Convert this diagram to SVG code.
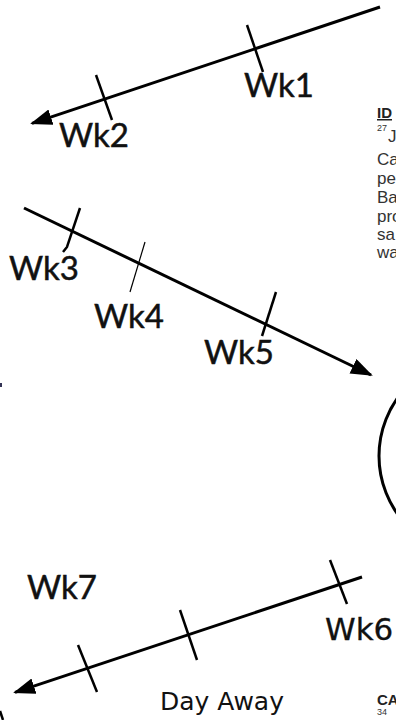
<svg xmlns="http://www.w3.org/2000/svg" width="396" height="720" viewBox="0 0 396 720">
<style>
.axis{fill:none;stroke:#000;stroke-width:3;stroke-linecap:butt}
.tick{fill:none;stroke:#000;stroke-width:2.5;stroke-linecap:butt}
.thin{fill:none;stroke:#000;stroke-width:1.2}
.wk{font-family:Lato,"Liberation Sans",sans-serif;font-size:33px;fill:#111;stroke:#111;stroke-width:0.5}
.wkb{font-family:"DejaVu Sans",sans-serif;font-size:31px;fill:#111;stroke:#111;stroke-width:0.3}
.day{font-family:"DejaVu Sans",sans-serif;font-size:25px;fill:#111}
.body{font-family:"Liberation Sans",Arial,sans-serif;font-size:17px;fill:#333}
.head{font-family:"Liberation Sans",Arial,sans-serif;font-size:15px;font-weight:bold;fill:#222}
.sup{font-family:"Liberation Sans",Arial,sans-serif;font-size:9px;fill:#333}
</style>
<defs>
<marker id="ah" viewBox="0 0 22 16" markerWidth="22" markerHeight="16" markerUnits="userSpaceOnUse" refX="20" refY="8" orient="auto">
<path d="M0,0 L22,8 L0,16 z" fill="#000"/>
</marker>
</defs>
<g id="connectors">
<line class="axis" x1="380" y1="7" x2="32" y2="123.4" marker-end="url(#ah)"/>
<line class="axis" x1="24" y1="208" x2="371" y2="375" marker-end="url(#ah)"/>
<line class="axis" x1="362" y1="577" x2="15" y2="692.4" marker-end="url(#ah)"/>
</g>
<g id="ticks">
<line class="tick" x1="247" y1="25" x2="263" y2="72"/>
<line class="tick" x1="96" y1="75" x2="112" y2="120"/>
<polyline class="tick" points="80,208 67,247 63,252"/>
<line class="thin" x1="145" y1="242" x2="130" y2="292"/>
<line class="tick" x1="276" y1="292" x2="262" y2="336"/>
<line class="tick" x1="330" y1="560" x2="347" y2="604"/>
<line class="tick" x1="180" y1="610" x2="197" y2="660"/>
<line class="tick" x1="78" y1="645" x2="97" y2="692"/>
</g>
<g id="labels">
<text class="wk" x="244" y="97">Wk1</text>
<text class="wk" x="59" y="147">Wk2</text>
<text class="wk" x="9" y="280">Wk3</text>
<text class="wk" x="94" y="328">Wk4</text>
<text class="wk" x="204" y="364">Wk5</text>
<text class="wk" x="27" y="599">Wk7</text>
<text class="wkb" x="325" y="640">Wk6</text>
<text class="day" x="160" y="710">Day Away</text>
</g>
<g id="circle">
<circle cx="479" cy="456" r="100" fill="none" stroke="#000" stroke-width="3"/>
</g>
<g id="sidetext">
<text class="head" x="377" y="118" text-decoration="underline">ID</text>
<text class="sup" x="377" y="131">27</text>
<text class="body" x="388" y="142">J</text>
<text class="body" x="377" y="165">Ca</text>
<text class="body" x="377" y="184">pe</text>
<text class="body" x="377" y="203">Ba</text>
<text class="body" x="377" y="222">pro</text>
<text class="body" x="377" y="240">sa</text>
<text class="body" x="377" y="258">wa</text>
<text class="head" x="377" y="705">CA</text>
<text class="sup" x="377" y="715">34</text>
</g>
<g id="edge-marks">
<rect x="0" y="383" width="2" height="4" fill="#335"/>
<line x1="0" y1="711" x2="3" y2="720" stroke="#000" stroke-width="2.5"/>
</g>
</svg>
